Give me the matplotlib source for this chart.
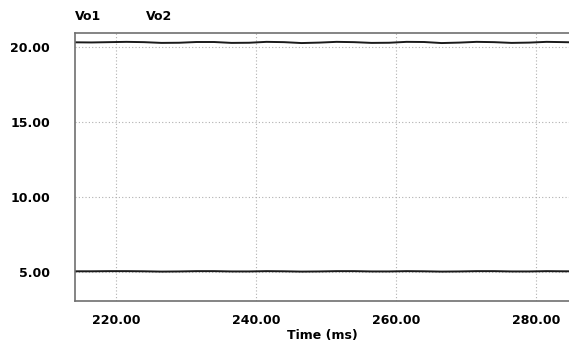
import matplotlib
matplotlib.use("Agg")
import matplotlib.pyplot as plt

time_ms = [214, 216.5, 219, 221.5, 224, 226.5, 229, 231.5, 234, 236.5, 239, 241.5,
           244, 246.5, 249, 251.5, 254, 256.5, 259, 261.5, 264, 266.5, 269, 271.5,
           274, 276.5, 279, 281.5, 284, 285]
vo1 = [20.31, 20.30, 20.32, 20.34, 20.32, 20.27, 20.28, 20.33, 20.33, 20.27, 20.28, 20.34,
       20.32, 20.26, 20.29, 20.34, 20.32, 20.27, 20.28, 20.34, 20.33, 20.26, 20.29, 20.34,
       20.32, 20.27, 20.29, 20.34, 20.32, 20.31]
vo2 = [5.05, 5.05, 5.06, 5.06, 5.05, 5.03, 5.04, 5.06, 5.06, 5.04, 5.04, 5.06,
       5.05, 5.03, 5.04, 5.06, 5.06, 5.04, 5.04, 5.06, 5.05, 5.03, 5.04, 5.06,
       5.06, 5.04, 5.04, 5.06, 5.05, 5.05]
xticks = [220, 240, 260, 280]
yticks = [5, 10, 15, 20]
series_names = ["Vo1", "Vo2"]

plt.rcParams['font.family'] = ['DejaVu Sans']
fs = 9
fig = plt.figure(figsize=(5.69, 3.45), dpi=100)
ax = fig.add_axes([75/569, 44/345, 1 - 75/569, 268/345])
ax.plot(time_ms, vo1, color='#1a1a1a', lw=1.4)
ax.plot(time_ms, vo2, color='#1a1a1a', lw=1.4)
ax.set_xlim(214.14, 284.7)
ax.set_ylim(3.07, 20.93)
ax.set_xticks(xticks)
ax.set_yticks(yticks)
ax.set_xticklabels([f"{v:.2f}" for v in xticks], fontweight='bold', fontsize=fs)
ax.set_yticklabels([f"{v:.2f}" for v in yticks], fontweight='bold', fontsize=fs)
ax.tick_params(length=0, pad=18)
ax.tick_params(axis='x', pad=9)
ax.grid(True, color='#b0b0b0', linestyle=(0, (1, 2)), lw=0.8)
for s in ['left', 'top', 'bottom']:
    ax.spines[s].set_color('#707070')
    ax.spines[s].set_linewidth(1.2)
ax.spines['right'].set_visible(False)
ax.set_xlabel("Time (ms)", fontweight='bold', fontsize=fs, labelpad=2)
fig.text(75/569, 1 - 17/345, series_names[0], fontweight='bold', fontsize=fs, va='center')
fig.text(146/569, 1 - 17/345, series_names[1], fontweight='bold', fontsize=fs, va='center')
fig.savefig("out.png", dpi=100)
